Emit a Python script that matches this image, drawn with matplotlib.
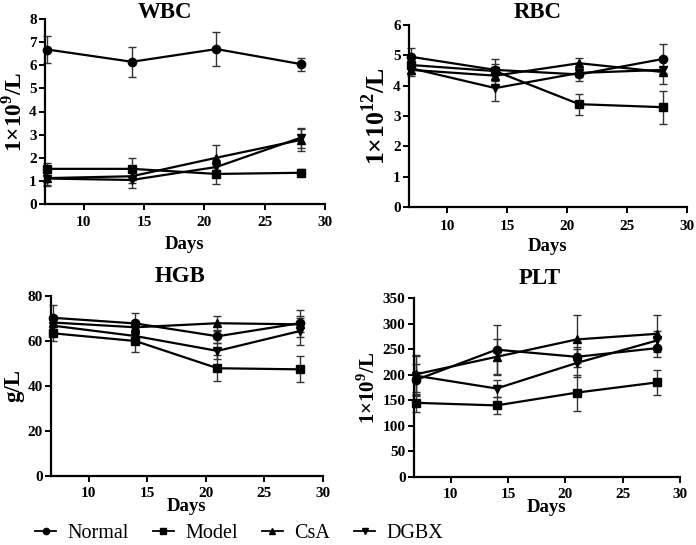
import numpy as np
import matplotlib
matplotlib.use("Agg")
import matplotlib.pyplot as plt
from matplotlib.lines import Line2D

plt.rcParams["font.family"] = ["Liberation Serif", "DejaVu Serif"]
plt.rcParams["mathtext.fontset"] = "custom"
plt.rcParams["mathtext.rm"] = "Liberation Serif"
plt.rcParams["mathtext.bf"] = "Liberation Serif:bold"

days = [7, 14, 21, 28]
groups = ["Normal", "Model", "CsA", "DGBX"]
markers = ["o", "s", "^", "v"]

# means and SD per panel, one list per group
wbc_mean = {"Normal": [6.68, 6.15, 6.70, 6.05], "Model": [1.52, 1.52, 1.30, 1.35],
            "CsA": [1.12, 1.20, 2.00, 2.77], "DGBX": [1.10, 1.04, 1.60, 2.87]}
wbc_err = {"Normal": [0.57, 0.65, 0.73, 0.28], "Model": [0.25, 0.45, 0.45, 0.15],
           "CsA": [0.30, 0.30, 0.55, 0.48], "DGBX": [0.30, 0.36, 0.30, 0.43]}

rbc_mean = {"Normal": [4.95, 4.52, 4.37, 4.88], "Model": [4.68, 4.48, 3.39, 3.29],
            "CsA": [4.52, 4.33, 4.74, 4.45], "DGBX": [4.57, 3.92, 4.42, 4.52]}
rbc_err = {"Normal": [0.30, 0.35, 0.20, 0.49], "Model": [0.25, 0.25, 0.35, 0.55],
           "CsA": [0.20, 0.30, 0.18, 0.40], "DGBX": [0.20, 0.43, 0.15, 0.10]}

hgb_mean = {"Normal": [70.3, 67.8, 62.1, 67.9], "Model": [63.4, 60.0, 47.9, 47.4],
            "CsA": [68.2, 66.1, 67.9, 67.4], "DGBX": [66.8, 62.2, 55.6, 64.4]}
hgb_err = {"Normal": [5.5, 4.5, 3.0, 6.0], "Model": [3.5, 5.0, 5.8, 5.8],
           "CsA": [3.0, 3.0, 3.4, 3.5], "DGBX": [3.0, 3.5, 3.5, 6.0]}

plt_mean = {"Normal": [190, 249, 235, 252], "Model": [145, 140, 165, 185],
            "CsA": [201, 235, 269, 280], "DGBX": [198, 173, 223, 267]}
plt_err = {"Normal": [30, 48, 20, 18], "Model": [18, 16, 35, 24],
           "CsA": [35, 35, 47, 36], "DGBX": [40, 17, 27, 19]}

panels = [
    ("WBC", wbc_mean, wbc_err, r"1×10$^{\mathbf{9}}$/L", 16.8, (0, 8), np.arange(0, 9, 1)),
    ("RBC", rbc_mean, rbc_err, r"1×10$^{\mathbf{12}}$/L", 18.5, (0, 6), np.arange(0, 7, 1)),
    ("HGB", hgb_mean, hgb_err, "g/L", 16.5, (0, 80), np.arange(0, 81, 20)),
    ("PLT", plt_mean, plt_err, r"1×10$^{\mathbf{9}}$/L", 15, (0, 350), np.arange(0, 351, 50)),
]

W, H = 696, 545
boxes = [(45, 19, 325, 204), (409, 25, 687, 207), (51, 296, 323, 476), (414, 298, 680, 477)]
title_pos = [(165, 12), (538, 13), (180, 277), (540, 278)]
xlabel_pad = [5, 4, -1.5, -1.5]
xtick_pad = [5, 5, 4, 4]

fig = plt.figure(figsize=(W / 100, H / 100), dpi=100)

for i, ((title, means, errs, ylab, yfs, ylim, yt), (l, t, r, b)) in enumerate(zip(panels, boxes)):
    ax = fig.add_axes([l / W, 1 - b / H, (r - l) / W, (b - t) / H])
    for g, m in zip(groups, markers):
        ax.errorbar(days, means[g], yerr=errs[g], color="black", marker=m,
                    markersize=6, linewidth=1.6, elinewidth=1.0, capsize=3,
                    capthick=1.0, ecolor="#333333", clip_on=False)
    ax.set_xlim(6.8, 30)
    ax.set_ylim(*ylim)
    ax.set_xticks([10, 15, 20, 25, 30])
    ax.set_yticks(yt)
    for s in ["top", "right"]:
        ax.spines[s].set_visible(False)
    for s in ["left", "bottom"]:
        ax.spines[s].set_linewidth(1.6)
    ax.tick_params(width=1.4, length=4, labelsize=11)
    ax.tick_params(axis="x", pad=xtick_pad[i])
    ax.tick_params(axis="y", pad=2)
    for lab in ax.get_xticklabels() + ax.get_yticklabels():
        lab.set_fontweight("bold")
    tx, ty = title_pos[i]
    fig.text(tx / W, 1 - ty / H, title, fontsize=16.5, fontweight="bold",
             ha="center", va="center")
    ax.set_xlabel("Days", fontsize=13.5, fontweight="bold", labelpad=xlabel_pad[i])
    ax.set_ylabel(ylab, fontsize=yfs, fontweight="bold", labelpad=2)

handles = [Line2D([], [], color="black", marker=m, markersize=4.5, linewidth=1.3)
           for m in markers]
fig.legend(handles, groups, loc="center left", bbox_to_anchor=(35 / W, 1 - 533 / H),
           ncol=4, frameon=False, fontsize=14.5, handlelength=1.05, handletextpad=0.55,
           columnspacing=1.2, borderpad=0, borderaxespad=0)

fig.savefig("out.png", dpi=100)
